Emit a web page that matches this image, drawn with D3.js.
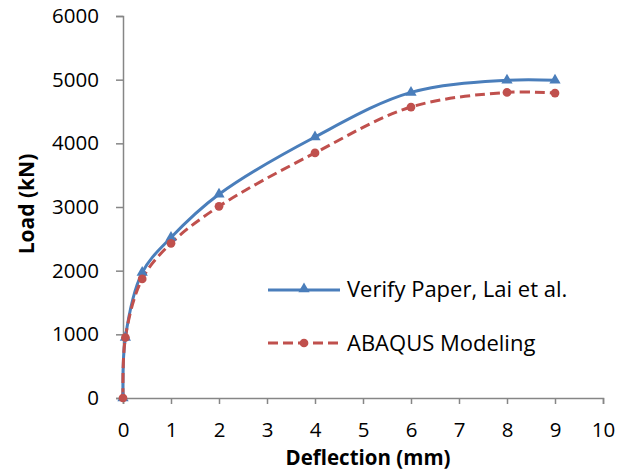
<!DOCTYPE html>
<html><head><meta charset="utf-8">
<script src="https://cdn.jsdelivr.net/npm/d3@7"></script>
<style>body{margin:0;background:#fff}svg{display:block}text{font-family:"Open Sans",sans-serif}</style>
</head><body><svg id="c" width="629" height="472"></svg>
<script>
const xTicks = [0,1,2,3,4,5,6,7,8,9,10];
const yTicks = [0,1000,2000,3000,4000,5000,6000];
const verifyX = [0,0.05,0.4,1,2,4,6,8,9];
const verifyY = [0,950,1970,2520,3200,4100,4800,4990,4990];
const abaqusX = [0,0.05,0.4,1,2,4,6,8,9];
const abaqusY = [0,950,1870,2430,3010,3850,4570,4800,4790];
const seriesNames = ["Verify Paper, Lai et al.","ABAQUS Modeling"];

const svg = d3.select("#c");
const x = d3.scaleLinear().domain([0,10]).range([123,603]);
const y = d3.scaleLinear().domain([0,6000]).range([398,16]);
const axisColor = "#868686";

const gx = svg.append("g").attr("transform","translate(0,398)")
  .call(d3.axisBottom(x).tickValues(xTicks).tickSize(6).tickPadding(18).tickFormat(d3.format("d")));
const gy = svg.append("g").attr("transform","translate(123,0)")
  .call(d3.axisLeft(y).tickValues(yTicks).tickSize(7).tickPadding(17).tickFormat(d3.format("d")));
[gx,gy].forEach(g=>{
  g.select(".domain").attr("stroke",axisColor).attr("stroke-width",1.5);
  g.selectAll(".tick line").attr("stroke",axisColor).attr("stroke-width",1.5);
  g.selectAll(".tick text").attr("fill","#000").style("font-size","20.5px").style("font-family","'Open Sans',sans-serif");
});

const line = d3.line().x(d=>x(d[0])).y(d=>y(d[1])).curve(d3.curveCatmullRom.alpha(0.5));
const vData = verifyX.map((v,i)=>[v,verifyY[i]]);
const aData = abaqusX.map((v,i)=>[v,abaqusY[i]]);
const blue = "#4a7ebb", red = "#c0504d";

svg.append("path").datum(vData).attr("d",line).attr("fill","none").attr("stroke",blue).attr("stroke-width",3);
svg.append("path").datum(aData).attr("d",line).attr("fill","none").attr("stroke",red).attr("stroke-width",3).attr("stroke-dasharray","10,5");

const tri = d3.symbol().type(d3.symbolTriangle).size(55);
const circ = d3.symbol().type(d3.symbolCircle).size(60);
svg.append("g").selectAll("path").data(vData).join("path")
  .attr("d",tri).attr("transform",d=>`translate(${x(d[0])},${y(d[1])})`).attr("fill",blue);
svg.append("g").selectAll("path").data(aData).join("path")
  .attr("d",circ).attr("transform",d=>`translate(${x(d[0])},${y(d[1])})`).attr("fill",red);

// legend
const lg = svg.append("g");
lg.append("line").attr("x1",268).attr("x2",340).attr("y1",290).attr("y2",290).attr("stroke",blue).attr("stroke-width",3);
lg.append("path").attr("d",tri).attr("transform","translate(304,289)").attr("fill",blue);
lg.append("text").attr("x",347).attr("y",297).style("font-size","22px").text(seriesNames[0]);
lg.append("line").attr("x1",268).attr("x2",340).attr("y1",343).attr("y2",343).attr("stroke",red).attr("stroke-width",3).attr("stroke-dasharray","10,5");
lg.append("path").attr("d",circ).attr("transform","translate(304,343)").attr("fill",red);
lg.append("text").attr("x",347).attr("y",351).style("font-size","22px").text(seriesNames[1]);

svg.append("text").attr("x",368).attr("y",465).attr("text-anchor","middle").style("font-size","20.5px").style("font-weight","bold").text("Deflection (mm)");
svg.append("text").attr("transform","translate(27,204) rotate(-90)").attr("dy","0.35em").attr("text-anchor","middle").style("font-size","21px").style("font-weight","bold").text("Load (kN)");
</script></body></html>
